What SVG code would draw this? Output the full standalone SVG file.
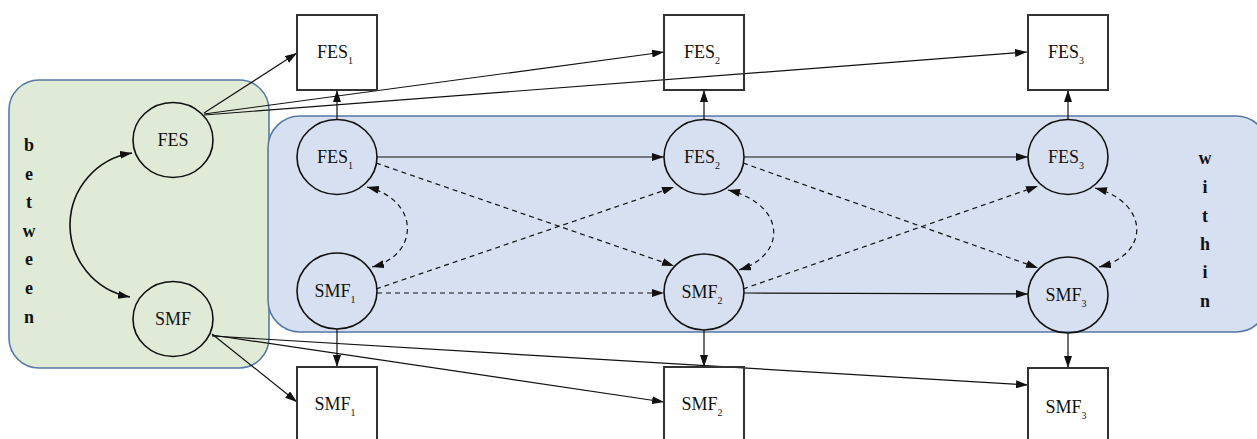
<svg xmlns="http://www.w3.org/2000/svg" width="1257" height="439" viewBox="0 0 1257 439">
  <style>
    .lbl { font-family: "Liberation Serif", "DejaVu Serif", "Times New Roman", serif; font-size: 18px; fill: #111; text-anchor: middle; }
    .sub { font-size: 10px; }
    .side { font-family: "Liberation Serif", "DejaVu Serif", "Times New Roman", serif; font-size: 18px; font-weight: bold; fill: #111; text-anchor: middle; }
    .lat { fill: none; stroke: #111; stroke-width: 1.6; }
    .obs { fill: none; stroke: #333; stroke-width: 2; }
    .arw { fill: none; stroke: #111; stroke-width: 1.2; marker-end: url(#ah); }
    .dsh { fill: none; stroke: #111; stroke-width: 1.2; stroke-dasharray: 5 4; marker-end: url(#ah); }
    .dbl { fill: none; stroke: #111; stroke-width: 1.2; stroke-dasharray: 5 4; marker-start: url(#ahs); marker-end: url(#ah); }
  </style>
  <defs>
    <marker id="ah" viewBox="0 0 12 8" refX="12" refY="4" markerWidth="12" markerHeight="8" markerUnits="userSpaceOnUse" orient="auto">
      <path d="M0,0 L12,4 L0,8 z" fill="#111"/>
    </marker>
    <marker id="ahs" viewBox="0 0 12 8" refX="12" refY="4" markerWidth="12" markerHeight="8" markerUnits="userSpaceOnUse" orient="auto-start-reverse">
      <path d="M0,0 L12,4 L0,8 z" fill="#111"/>
    </marker>
  </defs>

  <!-- background panels -->
  <g id="panel-between">
    <rect x="9" y="80" width="260" height="288" rx="30" ry="30" fill="#e0ebd7" stroke="#5878a8" stroke-width="1.6"/>
    <text class="side" font-family="Liberation Serif, serif" x="29" y="151">b</text>
    <text class="side" x="29" y="180">e</text>
    <text class="side" x="29" y="208">t</text>
    <text class="side" x="29" y="237">w</text>
    <text class="side" x="29" y="265">e</text>
    <text class="side" x="29" y="294">e</text>
    <text class="side" x="29" y="323">n</text>
  </g>
  <g id="panel-within">
    <rect x="268" y="116" width="1000" height="216" rx="32" ry="32" fill="#d7e0f1" stroke="#5878a8" stroke-width="1.6"/>
    <text class="side" x="1205" y="164">w</text>
    <text class="side" x="1205" y="193">i</text>
    <text class="side" x="1205" y="222">t</text>
    <text class="side" x="1205" y="250">h</text>
    <text class="side" x="1205" y="278">i</text>
    <text class="side" x="1205" y="307">n</text>
  </g>

  <!-- connectors -->
  <g id="connectors">
    <!-- between-level covariance -->
    <path class="lat" d="M132,153 A73,73 0 0 0 130,297" stroke-width="1.2" marker-start="url(#ahs)" marker-end="url(#ah)"/>
    <!-- between factors to indicators -->
    <line class="arw" x1="204" y1="113" x2="297" y2="53"/>
    <line class="arw" x1="204" y1="114" x2="664" y2="52"/>
    <line class="arw" x1="204" y1="115" x2="1027" y2="52"/>
    <line class="arw" x1="212" y1="334" x2="297" y2="402"/>
    <line class="arw" x1="212" y1="335" x2="664" y2="402"/>
    <line class="arw" x1="212" y1="336" x2="1028" y2="385"/>
    <!-- within factors to indicators -->
    <line class="arw" x1="337" y1="120" x2="337" y2="90"/>
    <line class="arw" x1="704" y1="120" x2="704" y2="90"/>
    <line class="arw" x1="1068" y1="120" x2="1068" y2="90"/>
    <line class="arw" x1="337" y1="329" x2="337" y2="367"/>
    <line class="arw" x1="704" y1="330" x2="704" y2="367"/>
    <line class="arw" x1="1068" y1="333" x2="1068" y2="368"/>
    <!-- autoregressive paths -->
    <line class="arw" x1="377" y1="157" x2="664" y2="157"/>
    <line class="arw" x1="744" y1="157" x2="1028" y2="157"/>
    <line class="dsh" x1="377" y1="293" x2="664" y2="293"/>
    <line class="arw" x1="744" y1="293" x2="1028" y2="294"/>
    <!-- cross-lagged paths -->
    <line class="dsh" x1="376" y1="163" x2="674" y2="266"/>
    <line class="dsh" x1="376" y1="289" x2="674" y2="187"/>
    <line class="dsh" x1="743" y1="163" x2="1038" y2="268"/>
    <line class="dsh" x1="743" y1="289" x2="1038" y2="186"/>
    <!-- within-time covariances -->
    <path class="dbl" d="M367,187 C420,200 420,255 372,267"/>
    <path class="dbl" d="M728,190 C787,205 787,255 739,270"/>
    <path class="dbl" d="M1095,188 C1150,203 1150,255 1099,267"/>
  </g>

  <!-- between-level latent factors -->
  <g id="node-fes-between">
    <ellipse class="lat" cx="173" cy="140" rx="40" ry="37.5"/>
    <text class="lbl" x="173" y="146">FES</text>
  </g>
  <g id="node-smf-between">
    <ellipse class="lat" cx="173" cy="319" rx="40" ry="37.5"/>
    <text class="lbl" x="173" y="325">SMF</text>
  </g>

  <!-- within-level latent factors -->
  <g id="node-fes1">
    <ellipse class="lat" cx="337" cy="157" rx="40" ry="37.5"/>
    <text class="lbl" x="335" y="163">FES<tspan class="sub" dy="6">1</tspan></text>
  </g>
  <g id="node-fes2">
    <ellipse class="lat" cx="704" cy="157" rx="40" ry="37.5"/>
    <text class="lbl" x="702" y="163">FES<tspan class="sub" dy="6">2</tspan></text>
  </g>
  <g id="node-fes3">
    <ellipse class="lat" cx="1068" cy="157" rx="40" ry="37.5"/>
    <text class="lbl" x="1066" y="163">FES<tspan class="sub" dy="6">3</tspan></text>
  </g>
  <g id="node-smf1">
    <ellipse class="lat" cx="337" cy="291" rx="40" ry="38"/>
    <text class="lbl" x="335" y="297">SMF<tspan class="sub" dy="6">1</tspan></text>
  </g>
  <g id="node-smf2">
    <ellipse class="lat" cx="704" cy="292" rx="40" ry="38"/>
    <text class="lbl" x="702" y="298">SMF<tspan class="sub" dy="6">2</tspan></text>
  </g>
  <g id="node-smf3">
    <ellipse class="lat" cx="1068" cy="295" rx="40" ry="38"/>
    <text class="lbl" x="1066" y="301">SMF<tspan class="sub" dy="6">3</tspan></text>
  </g>

  <!-- observed indicators -->
  <g id="obs-fes1">
    <rect class="obs" x="297" y="15" width="80" height="75"/>
    <text class="lbl" x="335" y="58">FES<tspan class="sub" dy="6">1</tspan></text>
  </g>
  <g id="obs-fes2">
    <rect class="obs" x="664" y="15" width="80" height="75"/>
    <text class="lbl" x="702" y="58">FES<tspan class="sub" dy="6">2</tspan></text>
  </g>
  <g id="obs-fes3">
    <rect class="obs" x="1028" y="15" width="80" height="75"/>
    <text class="lbl" x="1066" y="58">FES<tspan class="sub" dy="6">3</tspan></text>
  </g>
  <g id="obs-smf1">
    <rect class="obs" x="297" y="367" width="80" height="76"/>
    <text class="lbl" x="335" y="410">SMF<tspan class="sub" dy="6">1</tspan></text>
  </g>
  <g id="obs-smf2">
    <rect class="obs" x="664" y="367" width="80" height="76"/>
    <text class="lbl" x="702" y="410">SMF<tspan class="sub" dy="6">2</tspan></text>
  </g>
  <g id="obs-smf3">
    <rect class="obs" x="1028" y="368" width="80" height="76"/>
    <text class="lbl" x="1066" y="413">SMF<tspan class="sub" dy="6">3</tspan></text>
  </g>
</svg>
